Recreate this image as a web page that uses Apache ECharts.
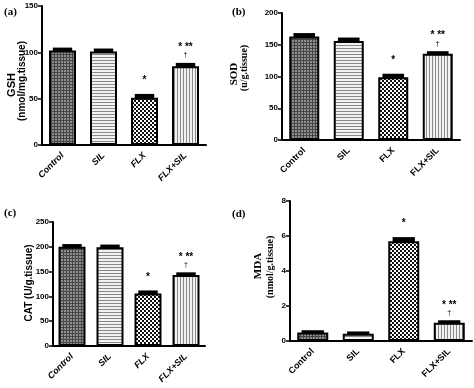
<!DOCTYPE html>
<html><head><meta charset="utf-8">
<script src="https://cdn.jsdelivr.net/npm/echarts@6/dist/echarts.min.js"></script>
<style>html,body{margin:0;padding:0;background:#fff}#c{width:474px;height:388px}</style>
</head><body><div id="c"></div>
<script>
const categories = ['Control', 'SIL', 'FLX', 'FLX+SIL'];
const gshValues = [102, 101, 51, 85];
const gshErrors = [1.5, 1.5, 2.5, 2];
const sodValues = [163, 156, 99, 136];
const sodErrors = [3, 3, 3, 1.5];
const catValues = [200, 199, 106, 143];
const catErrors = [2.5, 2.5, 3, 2.5];
const mdaValues = [0.48, 0.42, 5.7, 1.05];
const mdaErrors = [0.05, 0.04, 0.15, 0.05];
const starMarks = ['', '', '*', '* **'];
const daggerMarks = ['', '', '', '\u2020'];
const gshTicks = [0, 50, 100, 150];
const sodTicks = [0, 50, 100, 150, 200];
const catTicks = [0, 50, 100, 150, 200, 250];
const mdaTicks = [0, 2, 4, 6, 8];

function mkPattern(w, h, bg, draw) {
  const cv = document.createElement('canvas');
  cv.width = w; cv.height = h;
  const ctx = cv.getContext('2d');
  ctx.fillStyle = bg; ctx.fillRect(0, 0, w, h);
  draw(ctx);
  return { image: cv, repeat: 'repeat' };
}
const patCross = mkPattern(3, 3, '#8f8f8f', c => { c.fillStyle = '#454545'; c.fillRect(0, 0, 3, 1); c.fillRect(0, 0, 1, 3); });
const patH = mkPattern(3, 3, '#f2f2f2', c => { c.fillStyle = '#8a8a8a'; c.fillRect(0, 0, 3, 1); });
const patCheck = mkPattern(4, 4, '#111111', c => { c.fillStyle = '#fff'; c.fillRect(0, 0, 2, 2); c.fillRect(2, 2, 2, 2); });
const patV = mkPattern(3, 3, '#f2f2f2', c => { c.fillStyle = '#8a8a8a'; c.fillRect(0, 0, 1, 3); });
const patterns = [patCross, patH, patCheck, patV];

const grids = [
  { left: 42, top: 6, width: 164, height: 139 },
  { left: 282, top: 13, width: 178, height: 127 },
  { left: 53, top: 222, width: 152, height: 124 },
  { left: 290, top: 201, width: 182, height: 140 }
];
const panels = [
  { v: gshValues, e: gshErrors, t: gshTicks, italic: true },
  { v: sodValues, e: sodErrors, t: sodTicks, italic: false },
  { v: catValues, e: catErrors, t: catTicks, italic: true },
  { v: mdaValues, e: mdaErrors, t: mdaTicks, italic: false }
];
const barWidths = [27, 30, 27, 31];

const xAxes = [], yAxes = [], series = [];
panels.forEach((p, i) => {
  const step = p.t[1] - p.t[0];
  xAxes.push({
    type: 'category', gridIndex: i, data: categories,
    axisLine: { lineStyle: { color: '#000', width: 2 } },
    axisTick: { alignWithLabel: true, length: 4, lineStyle: { color: '#000', width: 1.5 } },
    axisLabel: { rotate: 45, color: '#000', fontWeight: 'bold', fontStyle: p.italic ? 'italic' : 'normal',
      fontFamily: 'Liberation Sans, Arial, sans-serif', fontSize: 9, margin: 9, interval: 0 }
  });
  yAxes.push({
    type: 'value', gridIndex: i, min: p.t[0], max: p.t[p.t.length - 1], interval: step,
    splitLine: { show: false },
    axisLine: { show: true, lineStyle: { color: '#000', width: 2 } },
    axisTick: { show: true, length: 4, lineStyle: { color: '#000', width: 1.5 } },
    axisLabel: { color: '#000', fontWeight: 'bold', fontFamily: 'Liberation Sans, Arial, sans-serif', fontSize: 8, margin: 4 }
  });
  series.push({
    type: 'bar', xAxisIndex: i, yAxisIndex: i, barWidth: barWidths[i],
    data: p.v.map((v, k) => ({ value: v, itemStyle: { color: patterns[k], borderColor: '#000', borderWidth: 2 } })),
    z: 2, animation: false
  });
  series.push({
    type: 'custom', xAxisIndex: i, yAxisIndex: i, z: 5, animation: false,
    data: p.v.map((v, k) => [k, v, p.e[k]]),
    renderItem: (params, api) => {
      const k = api.value(0), v = api.value(1), e = api.value(2);
      const base = api.coord([k, v]);
      const top = api.coord([k, v + e]);
      const hw = barWidths[i] * 0.36;
      return { type: 'group', children: [
        { type: 'line', shape: { x1: base[0], y1: base[1], x2: top[0], y2: top[1] }, style: { stroke: '#000', lineWidth: 2 } },
        { type: 'rect', shape: { x: top[0] - hw, y: top[1] - 1.5, width: hw * 2, height: Math.max(base[1] - top[1], 0) + 3 }, style: { fill: '#000' } }
      ] };
    }
  });
  series.push({
    type: 'custom', xAxisIndex: i, yAxisIndex: i, z: 6, animation: false,
    data: p.v.map((v, k) => [k, v + p.e[k], k]),
    renderItem: (params, api) => {
      const k = api.value(2);
      const pt = api.coord([api.value(0), api.value(1)]);
      const ch = [];
      if (starMarks[k]) ch.push({ type: 'text', x: pt[0], y: pt[1] - (daggerMarks[k] ? 17 : 15),
        style: { text: starMarks[k], textAlign: 'center', textVerticalAlign: 'middle', fill: '#000',
          font: 'bold 10px Liberation Sans, Arial, sans-serif' } });
      if (daggerMarks[k]) ch.push({ type: 'text', x: pt[0], y: pt[1] - 9,
        style: { text: daggerMarks[k], textAlign: 'center', textVerticalAlign: 'middle', fill: '#000',
          font: '7px Liberation Sans, Arial, sans-serif' } });
      return { type: 'group', children: ch };
    }
  });
});

const serifB = 'bold 11px Liberation Serif, Times New Roman, serif';
const sansB = 'bold 10px Liberation Sans, Arial, sans-serif';
function vtext(x, y, text, font) {
  return { type: 'text', x: x, y: y, rotation: Math.PI / 2,
    style: { text: text, font: font, fill: '#000', textAlign: 'center', textVerticalAlign: 'middle' } };
}
const graphic = [
  { type: 'text', x: 4, y: 12, style: { text: '(a)', font: serifB, fill: '#000', textVerticalAlign: 'middle' } },
  { type: 'text', x: 232, y: 12, style: { text: '(b)', font: serifB, fill: '#000', textVerticalAlign: 'middle' } },
  { type: 'text', x: 4, y: 213, style: { text: '(c)', font: serifB, fill: '#000', textVerticalAlign: 'middle' } },
  { type: 'text', x: 232, y: 214, style: { text: '(d)', font: serifB, fill: '#000', textVerticalAlign: 'middle' } },
  vtext(12, 85, 'GSH', 'bold 11px Liberation Sans, Arial, sans-serif'),
  vtext(22, 81, '(nmol/mg.tissue)', 'bold 10px Liberation Sans, Arial, sans-serif'),
  vtext(234, 74, 'SOD', 'bold 11px Liberation Serif, Times New Roman, serif'),
  vtext(244, 68, '(u/g.tissue)', 'bold 10px Liberation Serif, Times New Roman, serif'),
  vtext(29, 283, 'CAT (U/g.tissue)', sansB),
  vtext(258, 266, 'MDA', 'bold 11px Liberation Serif, Times New Roman, serif'),
  vtext(270, 267, '(nmol/g.tissue)', 'bold 10px Liberation Serif, Times New Roman, serif')
];

const chart = echarts.init(document.getElementById('c'), null, { renderer: 'canvas' });
chart.setOption({
  animation: false, backgroundColor: '#fff',
  grid: grids, xAxis: xAxes, yAxis: yAxes, series: series, graphic: graphic
});
</script></body></html>
